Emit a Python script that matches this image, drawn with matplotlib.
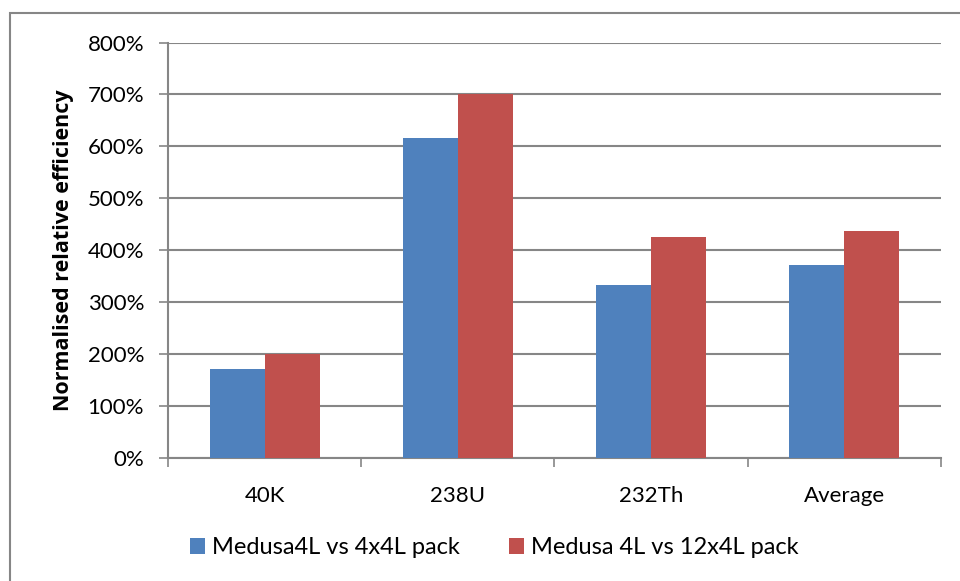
import matplotlib.pyplot as plt
import numpy as np
from matplotlib.patches import Patch, Rectangle
from matplotlib.ticker import FuncFormatter

categories = ["40K", "238U", "232Th", "Average"]
medusa_4x4 = [171, 616, 332, 372]
medusa_12x4 = [200, 700, 425, 437]
series_names = ["Medusa4L vs 4x4L pack", "Medusa 4L vs 12x4L pack"]

blue = "#4F81BD"
red = "#C0504D"
grey = "#868686"

plt.rcParams["font.family"] = ["Lato", "DejaVu Sans"]

fig = plt.figure(figsize=(9.6, 5.81), dpi=100)
ax = fig.add_axes([0.1754, 0.2124, 0.8044, 0.7143])

# outer chart frame (only top and left edges fall inside the image)
fig.patches.append(Rectangle((10 / 960, -0.1), 1.2, 1.1 - 13 / 581,
                             transform=fig.transFigure, fill=False,
                             edgecolor=grey, linewidth=1.5))

x = np.arange(len(categories))
w = 1 / 3.5
ax.bar(x - w / 2, medusa_4x4, w, color=blue, zorder=3)
ax.bar(x + w / 2, medusa_12x4, w, color=red, zorder=3)

ax.set_xlim(-0.5, len(categories) - 0.5)
ax.set_ylim(0, 800)
ax.set_yticks(range(0, 801, 100))
ax.yaxis.set_major_formatter(FuncFormatter(lambda v, p: f"{int(v)}%"))
ax.grid(axis="y", color=grey, linewidth=1.5, zorder=0)

ax.set_xticks(np.arange(-0.5, len(categories)))
ax.set_xticklabels([])
ax.set_xticks(x, minor=True)
ax.set_xticklabels(categories, minor=True)
ax.tick_params(axis="x", which="major", length=6.5, width=1.2, color=grey, direction="out")
ax.tick_params(axis="x", which="minor", length=0, pad=20.5, labelsize=16)
ax.tick_params(axis="y", length=6.5, width=1.2, color=grey, labelsize=16, pad=11)

for side in ["top", "right"]:
    ax.spines[side].set_visible(False)
for side in ["left", "bottom"]:
    ax.spines[side].set_color(grey)
    ax.spines[side].set_linewidth(1.5)

ax.set_ylabel("Normalised relative efficiency", fontsize=15.5, fontweight="bold",
              family=["Open Sans", "DejaVu Sans"])
ax.yaxis.set_label_coords(-0.122, 0.5)

handles = [Patch(facecolor=blue, linewidth=0), Patch(facecolor=red, linewidth=0)]
fig.legend(handles, series_names, loc="center", bbox_to_anchor=(0.515, 0.057),
           ncol=2, frameon=False, fontsize=17, handlelength=0.62, handleheight=0.62,
           handletextpad=0.3, columnspacing=2.1)

fig.savefig("out.png", dpi=100)
